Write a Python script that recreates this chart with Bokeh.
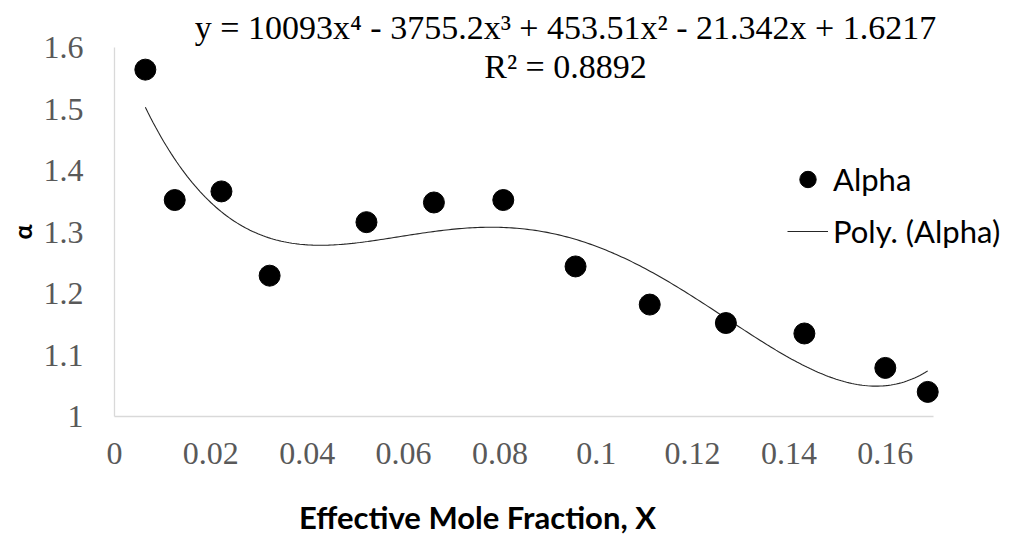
import numpy as np
from bokeh.plotting import figure
from bokeh.models import (Range1d, FixedTicker, NumeralTickFormatter, Label,
                          Legend, LegendItem)
from bokeh.embed import file_html
from bokeh.resources import INLINE

# ---- data ----
mole_fraction = [0.0064, 0.0125, 0.0222, 0.0322, 0.0523, 0.0663, 0.0807,
                 0.0957, 0.1111, 0.1269, 0.1432, 0.1600, 0.1688]
alpha = [1.564, 1.352, 1.366, 1.229, 1.316, 1.348, 1.352,
         1.244, 1.182, 1.152, 1.135, 1.079, 1.040]

# trendline coefficients shown on the chart (highest power first)
trend_coeffs = [10093, -3755.2, 453.51, -21.342, 1.6217]
trend_equation = "y = 10093x\u2074 - 3755.2x\u00b3 + 453.51x\u00b2 - 21.342x + 1.6217"
trend_r2 = "R\u00b2 = 0.8892"

x_ticks = [0, 0.02, 0.04, 0.06, 0.08, 0.10, 0.12, 0.14, 0.16]
y_ticks = [1.0, 1.1, 1.2, 1.3, 1.4, 1.5, 1.6]
x_axis_span = (0.0, 0.17)
y_axis_span = (1.0, 1.6)

# ---- layout (pixels) ----
W, H = 1011, 534
PLOT_L, PLOT_R, PLOT_T, PLOT_B = 114, 933, 47, 416

sx = (PLOT_R - PLOT_L) / (x_axis_span[1] - x_axis_span[0])
sy = (PLOT_B - PLOT_T) / (y_axis_span[1] - y_axis_span[0])


def dx(px):
    return x_axis_span[0] + (px - PLOT_L) / sx


def dy(py):
    return y_axis_span[0] + (PLOT_B - py) / sy


SERIF = "Liberation Serif"
SANS = "Lato"

p = figure(width=W, height=H, min_border=0,
           x_range=Range1d(dx(0), dx(W)), y_range=Range1d(dy(H), dy(0)),
           output_backend="svg", toolbar_location=None,
           background_fill_color="white", border_fill_color="white")
p.title.visible = False
p.outline_line_color = None
p.xgrid.visible = False
p.ygrid.visible = False

# trendline
xs = np.linspace(mole_fraction[0], mole_fraction[-1], 300)
ys = np.polyval(trend_coeffs, xs)
r_line = p.line(xs, ys, line_color="#262626", line_width=1.1)

# points
r_pts = p.scatter(mole_fraction, alpha, size=21, marker="circle",
                  fill_color="black", line_color="black")

for ax in (p.xaxis[0], p.yaxis[0]):
    ax.axis_line_color = "#d9d9d9"
    ax.axis_line_width = 1.3
    ax.major_tick_line_color = None
    ax.minor_tick_line_color = None
    ax.major_tick_out = 0
    ax.major_tick_in = 0
    ax.major_label_text_font = SERIF
    ax.major_label_text_font_size = "32px"
    ax.major_label_text_color = "#595959"

p.xaxis.fixed_location = y_axis_span[0]
p.yaxis.fixed_location = x_axis_span[0]
p.xaxis.bounds = x_axis_span
p.yaxis.bounds = y_axis_span
p.xaxis.ticker = FixedTicker(ticks=x_ticks)
p.yaxis.ticker = FixedTicker(ticks=y_ticks)
p.xaxis.formatter = NumeralTickFormatter(format="0.[00]")
p.yaxis.formatter = NumeralTickFormatter(format="0.[0]")
p.xaxis.major_label_standoff = 26
p.yaxis.major_label_standoff = 31

p.yaxis.axis_label = "\u03b1"
p.yaxis.axis_label_text_font = SANS
p.yaxis.axis_label_text_font_style = "bold"
p.yaxis.axis_label_text_font_size = "25px"
p.yaxis.axis_label_text_color = "black"
p.yaxis.axis_label_standoff = 4

# x axis title
p.add_layout(Label(x=dx(477), y=dy(516), text="Effective Mole Fraction, X",
                   text_font=SANS, text_font_style="bold",
                   text_font_size="31px", text_color="black",
                   text_align="center", text_baseline="middle"))

# trendline equation
p.add_layout(Label(x=dx(565), y=dy(27), text=trend_equation,
                   text_font=SERIF, text_font_size="34px", text_color="black",
                   text_align="center", text_baseline="middle"))
p.add_layout(Label(x=dx(565), y=dy(66), text=trend_r2,
                   text_font=SERIF, text_font_size="34px", text_color="black",
                   text_align="center", text_baseline="middle"))

legend = Legend(items=[LegendItem(label="Alpha", renderers=[r_pts]),
                       LegendItem(label="Poly. (Alpha)", renderers=[r_line])],
                location=(787, H - 252), orientation="vertical",
                glyph_width=41, glyph_height=42, spacing=10,
                label_standoff=5, padding=0, margin=0,
                label_text_font=SANS, label_text_font_size="31px",
                label_text_color="black", label_height=42,
                border_line_color=None, background_fill_alpha=0)
p.add_layout(legend, "center")

open("out.html", "w").write(file_html(p, INLINE))
